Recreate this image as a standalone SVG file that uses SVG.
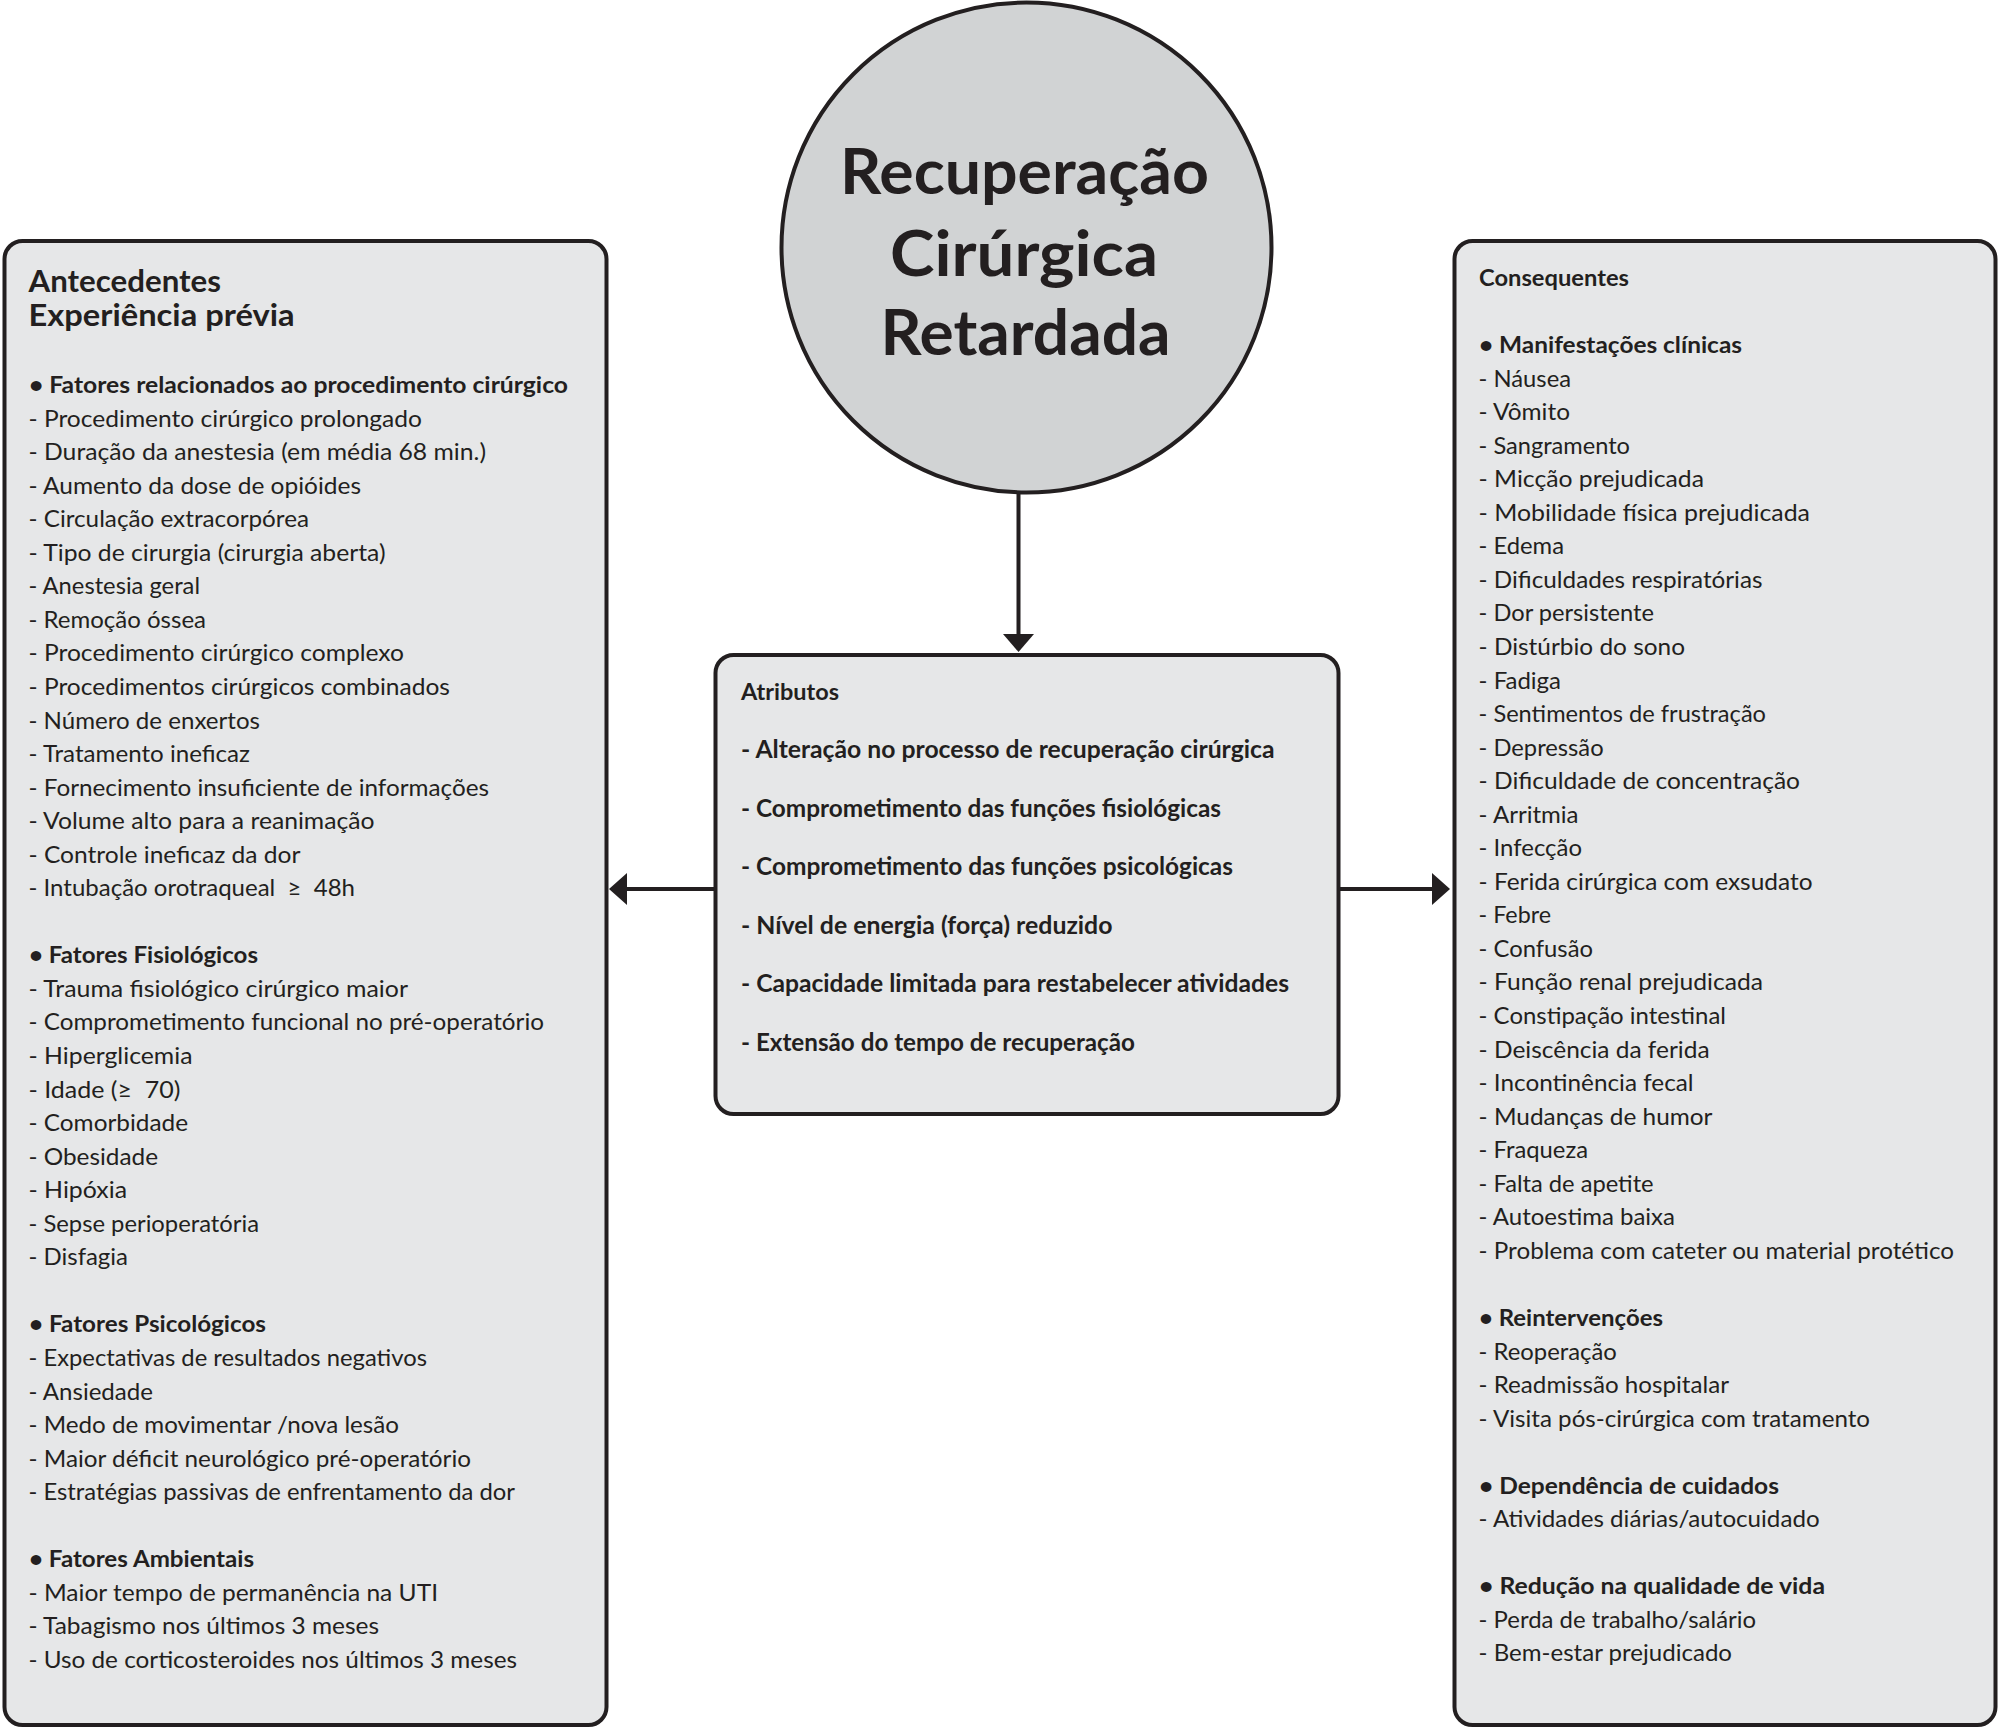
<svg xmlns="http://www.w3.org/2000/svg" width="2000" height="1729" viewBox="0 0 2000 1729">
<style>
text{font-family:Lato,"Open Sans","DejaVu Sans",sans-serif;fill:#231f20}
.t{font-size:23px}
.b{font-size:23px;font-weight:bold}
.h{font-size:31px;font-weight:bold}
.m{font-size:24px;font-weight:bold}
.ttl{font-size:63px;font-weight:bold}
.box{fill:#e6e7e8;stroke:#231f20;stroke-width:4}
.circ{fill:#d1d3d4;stroke:#231f20;stroke-width:4}
.ln{stroke:#231f20;stroke-width:4;fill:none}
.ah{fill:#231f20}
</style>
<rect width="2000" height="1729" fill="#ffffff"/>
<g id="connectors">
<line class="ln" x1="1018.5" y1="493" x2="1018.5" y2="636"/>
<polygon class="ah" points="1003,634 1034,634 1018.5,652"/>
<line class="ln" x1="714" y1="889" x2="625" y2="889"/>
<polygon class="ah" points="609,889 627,873 627,905"/>
<line class="ln" x1="1340" y1="889" x2="1433" y2="889"/>
<polygon class="ah" points="1450,889 1432,873 1432,905"/>
</g>
<g id="node-central">
<circle class="circ" cx="1026.5" cy="247.5" r="245"/>
<text class="ttl" x="840" y="194" textLength="369" lengthAdjust="spacingAndGlyphs">Recuperação</text>
<text class="ttl" x="890" y="275.5" textLength="268" lengthAdjust="spacingAndGlyphs">Cirúrgica</text>
<text class="ttl" x="880.5" y="354.5" textLength="290" lengthAdjust="spacingAndGlyphs">Retardada</text>
</g>
<g id="node-antecedentes">
<rect class="box" x="4.5" y="241" width="602" height="1484" rx="18"/>
<text class="h" x="28.5" y="292" textLength="192.5" lengthAdjust="spacingAndGlyphs">Antecedentes</text>
<text class="h" x="28.5" y="326" textLength="266" lengthAdjust="spacingAndGlyphs">Experiência prévia</text>
<text class="b" x="29" y="393" textLength="539" lengthAdjust="spacingAndGlyphs">• Fatores relacionados ao procedimento cirúrgico</text>
<text class="t" x="28.5" y="426.5" textLength="393.5" lengthAdjust="spacingAndGlyphs">- Procedimento cirúrgico prolongado</text>
<text class="t" x="28.5" y="460.1" textLength="457.5" lengthAdjust="spacingAndGlyphs">- Duração da anestesia (em média 68 min.)</text>
<text class="t" x="28.5" y="493.65" textLength="332.5" lengthAdjust="spacingAndGlyphs">- Aumento da dose de opióides</text>
<text class="t" x="28.5" y="527.2" textLength="280.5" lengthAdjust="spacingAndGlyphs">- Circulação extracorpórea</text>
<text class="t" x="28.5" y="560.75" textLength="357" lengthAdjust="spacingAndGlyphs">- Tipo de cirurgia (cirurgia aberta)</text>
<text class="t" x="28.5" y="594.3" textLength="171.5" lengthAdjust="spacingAndGlyphs">- Anestesia geral</text>
<text class="t" x="28.5" y="627.85" textLength="177.5" lengthAdjust="spacingAndGlyphs">- Remoção óssea</text>
<text class="t" x="28.5" y="661.4" textLength="375.5" lengthAdjust="spacingAndGlyphs">- Procedimento cirúrgico complexo</text>
<text class="t" x="28.5" y="694.95" textLength="421.5" lengthAdjust="spacingAndGlyphs">- Procedimentos cirúrgicos combinados</text>
<text class="t" x="28.5" y="728.5" textLength="231.5" lengthAdjust="spacingAndGlyphs">- Número de enxertos</text>
<text class="t" x="28.5" y="762.05" textLength="221.5" lengthAdjust="spacingAndGlyphs">- Tratamento ineficaz</text>
<text class="t" x="28.5" y="795.6" textLength="460.5" lengthAdjust="spacingAndGlyphs">- Fornecimento insuficiente de informações</text>
<text class="t" x="28.5" y="829.15" textLength="346" lengthAdjust="spacingAndGlyphs">- Volume alto para a reanimação</text>
<text class="t" x="28.5" y="862.7" textLength="272" lengthAdjust="spacingAndGlyphs">- Controle ineficaz da dor</text>
<text class="t" x="28.5" y="896.25" textLength="326.5" lengthAdjust="spacingAndGlyphs">- Intubação orotraqueal &#160;≥ &#160;48h</text>
<text class="b" x="29" y="963.35" textLength="229" lengthAdjust="spacingAndGlyphs">• Fatores Fisiológicos</text>
<text class="t" x="28.5" y="996.9" textLength="379.5" lengthAdjust="spacingAndGlyphs">- Trauma fisiológico cirúrgico maior</text>
<text class="t" x="28.5" y="1030.45" textLength="515.5" lengthAdjust="spacingAndGlyphs">- Comprometimento funcional no pré-operatório</text>
<text class="t" x="28.5" y="1064" textLength="164" lengthAdjust="spacingAndGlyphs">- Hiperglicemia</text>
<text class="t" x="28.5" y="1097.55" textLength="152" lengthAdjust="spacingAndGlyphs">- Idade (≥ &#160;70)</text>
<text class="t" x="28.5" y="1131.1" textLength="159.5" lengthAdjust="spacingAndGlyphs">- Comorbidade</text>
<text class="t" x="28.5" y="1164.65" textLength="129.5" lengthAdjust="spacingAndGlyphs">- Obesidade</text>
<text class="t" x="28.5" y="1198.2" textLength="98.5" lengthAdjust="spacingAndGlyphs">- Hipóxia</text>
<text class="t" x="28.5" y="1231.75" textLength="230.5" lengthAdjust="spacingAndGlyphs">- Sepse perioperatória</text>
<text class="t" x="28.5" y="1265.3" textLength="99.5" lengthAdjust="spacingAndGlyphs">- Disfagia</text>
<text class="b" x="29" y="1332.4" textLength="237" lengthAdjust="spacingAndGlyphs">• Fatores Psicológicos</text>
<text class="t" x="28.5" y="1365.95" textLength="398.5" lengthAdjust="spacingAndGlyphs">- Expectativas de resultados negativos</text>
<text class="t" x="28.5" y="1399.5" textLength="124.5" lengthAdjust="spacingAndGlyphs">- Ansiedade</text>
<text class="t" x="28.5" y="1433.05" textLength="370.5" lengthAdjust="spacingAndGlyphs">- Medo de movimentar /nova lesão</text>
<text class="t" x="28.5" y="1466.6" textLength="442.5" lengthAdjust="spacingAndGlyphs">- Maior déficit neurológico pré-operatório</text>
<text class="t" x="28.5" y="1500.15" textLength="486.5" lengthAdjust="spacingAndGlyphs">- Estratégias passivas de enfrentamento da dor</text>
<text class="b" x="29" y="1567.25" textLength="225" lengthAdjust="spacingAndGlyphs">• Fatores Ambientais</text>
<text class="t" x="28.5" y="1600.8" textLength="409.5" lengthAdjust="spacingAndGlyphs">- Maior tempo de permanência na UTI</text>
<text class="t" x="28.5" y="1634.35" textLength="350.5" lengthAdjust="spacingAndGlyphs">- Tabagismo nos últimos 3 meses</text>
<text class="t" x="28.5" y="1667.9" textLength="488.5" lengthAdjust="spacingAndGlyphs">- Uso de corticosteroides nos últimos 3 meses</text>
</g>
<g id="node-atributos">
<rect class="box" x="715.5" y="655" width="623" height="459" rx="18"/>
<text class="b" x="741" y="700" textLength="98" lengthAdjust="spacingAndGlyphs">Atributos</text>
<text class="m" x="741" y="758" textLength="533.5" lengthAdjust="spacingAndGlyphs">- Alteração no processo de recuperação cirúrgica</text>
<text class="m" x="741" y="817" textLength="480" lengthAdjust="spacingAndGlyphs">- Comprometimento das funções fisiológicas</text>
<text class="m" x="741" y="875" textLength="492" lengthAdjust="spacingAndGlyphs">- Comprometimento das funções psicológicas</text>
<text class="m" x="741" y="934" textLength="371.5" lengthAdjust="spacingAndGlyphs">- Nível de energia (força) reduzido</text>
<text class="m" x="741" y="992" textLength="548" lengthAdjust="spacingAndGlyphs">- Capacidade limitada para restabelecer atividades</text>
<text class="m" x="741" y="1051" textLength="394" lengthAdjust="spacingAndGlyphs">- Extensão do tempo de recuperação</text>
</g>
<g id="node-consequentes">
<rect class="box" x="1454.5" y="241" width="541" height="1484" rx="18"/>
<text class="b" x="1479" y="286" textLength="150" lengthAdjust="spacingAndGlyphs">Consequentes</text>
<text class="b" x="1479" y="353" textLength="263" lengthAdjust="spacingAndGlyphs">• Manifestações clínicas</text>
<text class="t" x="1478.6" y="386.55" textLength="92.4" lengthAdjust="spacingAndGlyphs">- Náusea</text>
<text class="t" x="1478.6" y="420.1" textLength="91.4" lengthAdjust="spacingAndGlyphs">- Vômito</text>
<text class="t" x="1478.6" y="453.65" textLength="151.4" lengthAdjust="spacingAndGlyphs">- Sangramento</text>
<text class="t" x="1478.6" y="487.2" textLength="225.4" lengthAdjust="spacingAndGlyphs">- Micção prejudicada</text>
<text class="t" x="1478.6" y="520.75" textLength="331.4" lengthAdjust="spacingAndGlyphs">- Mobilidade física prejudicada</text>
<text class="t" x="1478.6" y="554.3" textLength="85.4" lengthAdjust="spacingAndGlyphs">- Edema</text>
<text class="t" x="1478.6" y="587.85" textLength="283.9" lengthAdjust="spacingAndGlyphs">- Dificuldades respiratórias</text>
<text class="t" x="1478.6" y="621.4" textLength="175.4" lengthAdjust="spacingAndGlyphs">- Dor persistente</text>
<text class="t" x="1478.6" y="654.95" textLength="206.4" lengthAdjust="spacingAndGlyphs">- Distúrbio do sono</text>
<text class="t" x="1478.6" y="688.5" textLength="82.4" lengthAdjust="spacingAndGlyphs">- Fadiga</text>
<text class="t" x="1478.6" y="722.05" textLength="287.4" lengthAdjust="spacingAndGlyphs">- Sentimentos de frustração</text>
<text class="t" x="1478.6" y="755.6" textLength="125" lengthAdjust="spacingAndGlyphs">- Depressão</text>
<text class="t" x="1478.6" y="789.15" textLength="321.4" lengthAdjust="spacingAndGlyphs">- Dificuldade de concentração</text>
<text class="t" x="1478.6" y="822.7" textLength="100" lengthAdjust="spacingAndGlyphs">- Arritmia</text>
<text class="t" x="1478.6" y="856.25" textLength="103.4" lengthAdjust="spacingAndGlyphs">- Infecção</text>
<text class="t" x="1478.6" y="889.8" textLength="333.9" lengthAdjust="spacingAndGlyphs">- Ferida cirúrgica com exsudato</text>
<text class="t" x="1478.6" y="923.35" textLength="72.4" lengthAdjust="spacingAndGlyphs">- Febre</text>
<text class="t" x="1478.6" y="956.9" textLength="114.4" lengthAdjust="spacingAndGlyphs">- Confusão</text>
<text class="t" x="1478.6" y="990.45" textLength="284.4" lengthAdjust="spacingAndGlyphs">- Função renal prejudicada</text>
<text class="t" x="1478.6" y="1024" textLength="247.4" lengthAdjust="spacingAndGlyphs">- Constipação intestinal</text>
<text class="t" x="1478.6" y="1057.55" textLength="231" lengthAdjust="spacingAndGlyphs">- Deiscência da ferida</text>
<text class="t" x="1478.6" y="1091.1" textLength="215" lengthAdjust="spacingAndGlyphs">- Incontinência fecal</text>
<text class="t" x="1478.6" y="1124.65" textLength="233.9" lengthAdjust="spacingAndGlyphs">- Mudanças de humor</text>
<text class="t" x="1478.6" y="1158.2" textLength="109.4" lengthAdjust="spacingAndGlyphs">- Fraqueza</text>
<text class="t" x="1478.6" y="1191.75" textLength="175" lengthAdjust="spacingAndGlyphs">- Falta de apetite</text>
<text class="t" x="1478.6" y="1225.3" textLength="196.4" lengthAdjust="spacingAndGlyphs">- Autoestima baixa</text>
<text class="t" x="1478.6" y="1258.85" textLength="475.4" lengthAdjust="spacingAndGlyphs">- Problema com cateter ou material protético</text>
<text class="b" x="1479" y="1325.95" textLength="184" lengthAdjust="spacingAndGlyphs">• Reintervenções</text>
<text class="t" x="1478.6" y="1359.5" textLength="138.2" lengthAdjust="spacingAndGlyphs">- Reoperação</text>
<text class="t" x="1478.6" y="1393.05" textLength="250.4" lengthAdjust="spacingAndGlyphs">- Readmissão hospitalar</text>
<text class="t" x="1478.6" y="1426.6" textLength="391.4" lengthAdjust="spacingAndGlyphs">- Visita pós-cirúrgica com tratamento</text>
<text class="b" x="1479" y="1493.7" textLength="300" lengthAdjust="spacingAndGlyphs">• Dependência de cuidados</text>
<text class="t" x="1478.6" y="1527.25" textLength="341" lengthAdjust="spacingAndGlyphs">- Atividades diárias/autocuidado</text>
<text class="b" x="1479" y="1594.35" textLength="346" lengthAdjust="spacingAndGlyphs">• Redução na qualidade de vida</text>
<text class="t" x="1478.6" y="1627.9" textLength="277.4" lengthAdjust="spacingAndGlyphs">- Perda de trabalho/salário</text>
<text class="t" x="1478.6" y="1661.45" textLength="253.4" lengthAdjust="spacingAndGlyphs">- Bem-estar prejudicado</text>
</g>
</svg>
